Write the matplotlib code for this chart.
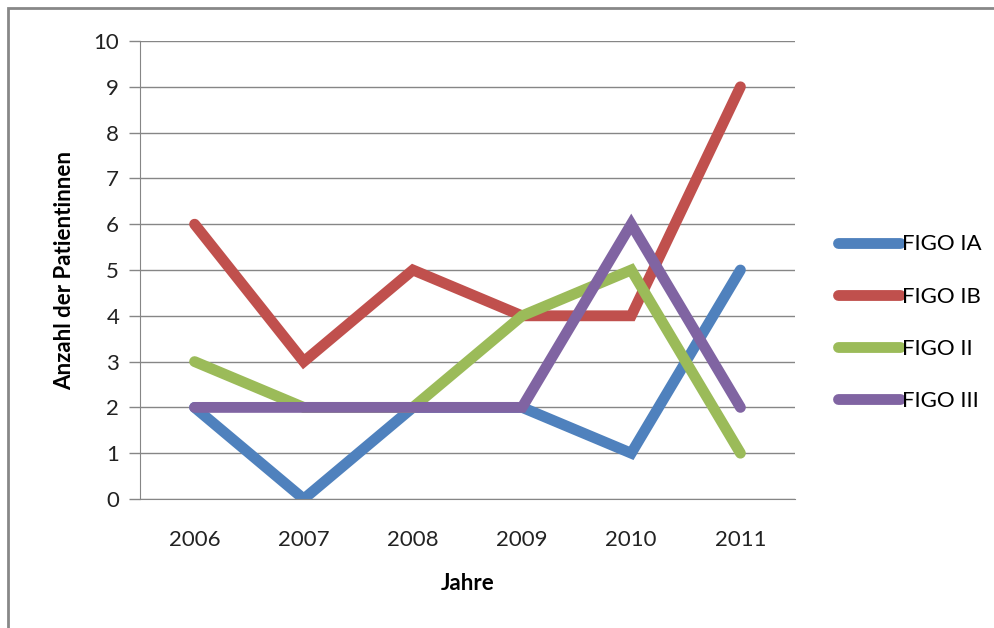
import matplotlib
matplotlib.use("Agg")
import matplotlib.pyplot as plt
from matplotlib.patches import Rectangle

plt.rcParams['font.family'] = ['Lato', 'DejaVu Sans']

years = ["2006", "2007", "2008", "2009", "2010", "2011"]
figo_ia = [2, 0, 2, 2, 1, 5]
figo_ib = [6, 3, 5, 4, 4, 9]
figo_ii = [3, 2, 2, 4, 5, 1]
figo_iii = [2, 2, 2, 2, 6, 2]

series_names = ["FIGO IA", "FIGO IB", "FIGO II", "FIGO III"]
colors = ["#4F81BD", "#C0504D", "#9BBB59", "#8064A2"]

fig = plt.figure(figsize=(9.95, 6.28), dpi=100)
ax = fig.add_axes([140/995, 1 - 499/628, 655/995, 458/628])

# outer frame like the Excel chart area
fig.patches.append(Rectangle((8/995, -0.05), 1.2, 1 - 8/628 + 0.05, transform=fig.transFigure,
                             fill=False, edgecolor="#888888", linewidth=2))

x = list(range(len(years)))
for vals, name, c in zip([figo_ia, figo_ib, figo_ii, figo_iii], series_names, colors):
    ax.plot(x, vals, color=c, linewidth=7.8, solid_capstyle="round",
            solid_joinstyle="miter", label=name)

ax.set_xlim(-0.5, len(years) - 0.5)
ax.set_ylim(0, 10)
ax.set_yticks(range(0, 11))
ax.set_xticks(x)
ax.set_xticklabels(years)
ax.yaxis.grid(True, color="#868686", linewidth=1)
ax.set_axisbelow(True)
for s in ["top", "right"]:
    ax.spines[s].set_visible(False)
ax.spines["left"].set_color("#868686")
ax.spines["bottom"].set_color("#868686")
ax.tick_params(axis="x", length=0, pad=22, labelsize=16, colors="#222222")
ax.tick_params(axis="y", length=8, width=1, color="#868686", pad=7, labelsize=16, labelcolor="#222222")

ax.set_xlabel("Jahre", fontsize=16, fontweight="bold", labelpad=17)
ax.set_ylabel("Anzahl der Patientinnen", fontsize=16, fontweight="bold", labelpad=13)

leg = ax.legend(loc="center left", bbox_to_anchor=(1.035, 0.385), frameon=False, fontsize=16,
                handlelength=2.8, handletextpad=0.1, labelspacing=1.45)

fig.savefig("out.png", dpi=100)
